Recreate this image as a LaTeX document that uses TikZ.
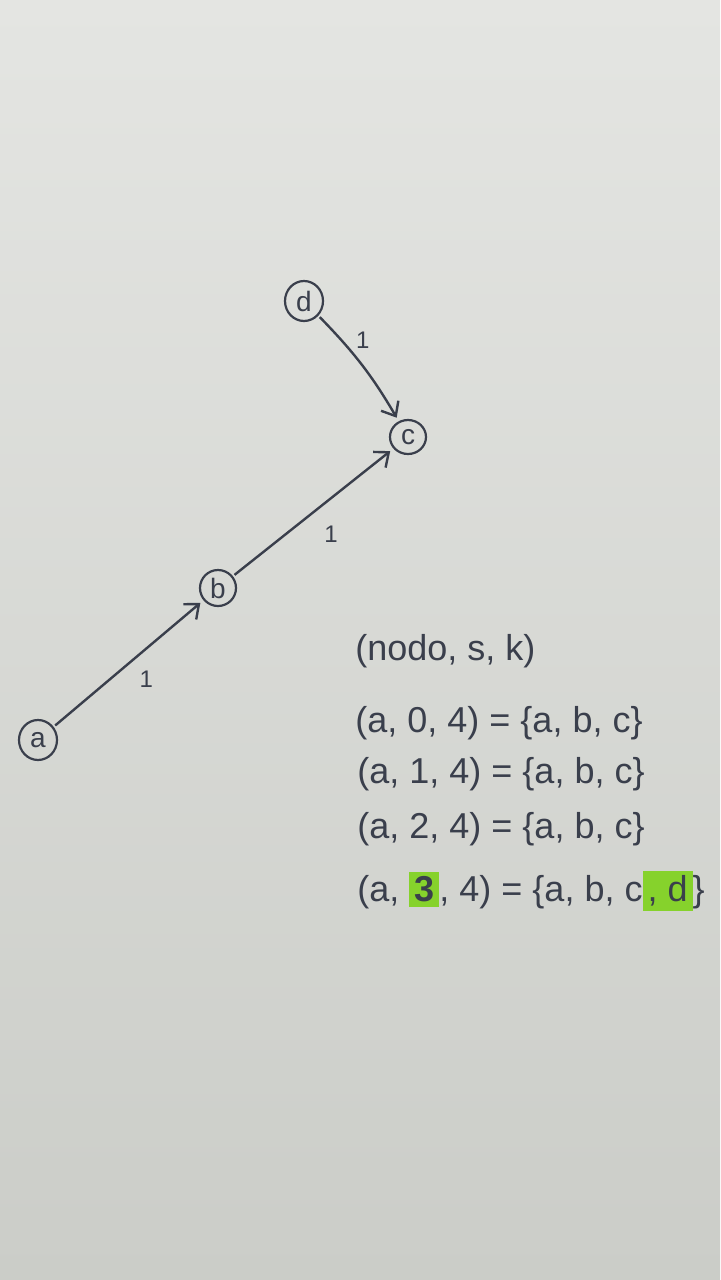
\documentclass[tikz,border=0pt]{standalone}
\usepackage{fontspec}
\setmainfont{Liberation Sans}
\usetikzlibrary{arrows.meta,shapes.geometric,positioning}
\definecolor{ink}{HTML}{3A3F4C}
\definecolor{papertop}{HTML}{E4E5E2}
\definecolor{paperbot}{HTML}{CBCDC8}
\definecolor{marker}{HTML}{86D22C}
\begin{document}
\begin{tikzpicture}[x=0.5pt,y=-0.5pt,
  vtx/.style={draw=ink, line width=1.1pt, ellipse, minimum width=19pt, minimum height=20pt, inner sep=0pt, text=ink, font=\fontsize{14}{14}\selectfont},
  edg/.style={draw=ink, line width=1.2pt, -{Straight Barb[length=6pt,width=10pt,line width=1.2pt]}, shorten >=2pt, shorten <=1pt},
  lbl/.style={text=ink, font=\fontsize{12}{12}\selectfont, inner sep=1pt},
  eq/.style={text=ink, anchor=west, inner sep=0pt, font=\fontsize{18}{18}\selectfont}]
\shade[top color=papertop, bottom color=paperbot] (0,0) rectangle (720,1280);
\useasboundingbox (0,0) rectangle (720,1280);
\node[vtx] (d) at (304,301) {d};
\node[vtx, minimum width=18pt, minimum height=17pt] (c) at (408,437) {c};
\node[vtx, minimum width=18pt, minimum height=18pt] (b) at (218,588) {b};
\node[vtx] (a) at (38,740) {a};
\draw[edg] (a) -- node[lbl, below right=2pt and 4pt] (l1) {1} (b);
\draw[edg] (b) -- node[lbl, below right=5pt and 4pt] (l2) {1} (c);
\draw[edg] (d) to[bend left=7] node[lbl, pos=0.35, above right=0pt and 1pt] (l3) {1} (c);
\node[eq] (h) at (355,651) {(nodo, s, k)};
\node[eq] (e0) at (355,723) {(a, 0, 4) = \{a, b, c\}};
\node[eq] (e1) at (357,774) {(a, 1, 4) = \{a, b, c\}};
\node[eq] (e2) at (357,829) {(a, 2, 4) = \{a, b, c\}};
\node[eq] (e3) at (357,891) {(a, \setlength{\fboxsep}{2.5pt}\colorbox{marker}{\textbf{3}}, 4) = \{a, b, c\colorbox{marker}{, d}\}};
\end{tikzpicture}
\end{document}
